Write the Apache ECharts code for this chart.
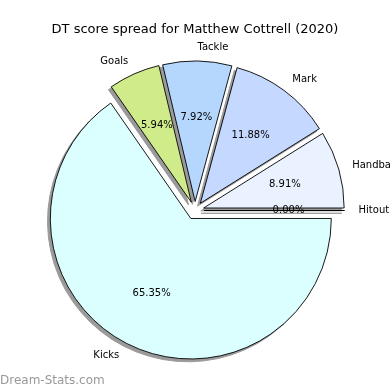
<!DOCTYPE html>
<html><head><meta charset="utf-8">
<script src="https://cdn.jsdelivr.net/npm/echarts@6/dist/echarts.min.js"></script>
<style>html,body{margin:0;padding:0;background:#fff}#c{width:390px;height:390px}</style>
</head><body><div id="c"></div>
<script>
var categories = ['Hitout', 'Handball', 'Mark', 'Tackle', 'Goals', 'Kicks'];
var values = [0, 9, 12, 8, 6, 66];
var colors = ['#eaf2ff', '#eaf2ff', '#c5d8ff', '#b5d7fe', '#d0ec8a', '#dbfeff'];
var titleText = 'DT score spread for Matthew Cottrell (2020)';
var watermark = 'Dream-Stats.com';

var total = values.reduce(function (a, b) { return a + b; }, 0);
var cx = 195, cy = 210.5;
var R = 140.5;
var off = 9;
var sh = 2.8;
var font = 'DejaVu Sans';

function mk(kind) {
  return categories.map(function (c, i) {
    var col = kind === 'main' ? colors[i] : (kind === 'shadow' ? '#9a9a9a' : 'rgba(0,0,0,0)');
    return { name: c, value: values[i], selected: true, itemStyle: { color: col } };
  });
}

var common = {
  type: 'pie', startAngle: 0, clockwise: false,
  selectedMode: 'multiple', selectedOffset: off,
  avoidLabelOverlap: false, silent: true, stillShowZeroSum: true,
  emphasis: { disabled: true }
};

var chart = echarts.init(document.getElementById('c'), null, { renderer: 'canvas' });
chart.setOption({
  animation: false,
  backgroundColor: '#fff',
  title: {
    text: titleText, left: 'center', top: 18,
    textStyle: { fontFamily: font, fontSize: 13, fontWeight: 'normal', color: '#000' }
  },
  graphic: [{
    type: 'text', left: 0, top: 375,
    style: { text: watermark, fontFamily: font, fontSize: 12, fill: '#999' }
  }],
  series: [
    Object.assign({}, common, {
      center: [cx - sh, cy + sh], radius: [0, R],
      itemStyle: { borderWidth: 1, borderColor: '#9a9a9a' },
      label: { show: false }, labelLine: { show: false },
      data: mk('shadow')
    }),
    Object.assign({}, common, {
      center: [cx, cy], radius: [0, R],
      itemStyle: { borderColor: '#000', borderWidth: 0.9 },
      label: {
        show: true, position: 'outside', distanceToLabelLine: 0, offset: [0, 1],
        fontFamily: font, fontSize: 10, color: '#000',
        formatter: '{b}'
      },
      labelLine: { show: false, length: 0.1 * R, length2: 0 },
      data: mk('main')
    }),
    Object.assign({}, common, {
      center: [cx, cy], radius: [0, 163],
      itemStyle: { borderWidth: 0 },
      label: {
        show: true, position: 'inside', offset: [0, 1],
        fontFamily: font, fontSize: 10, color: '#000',
        formatter: function (p) { return (p.value / total * 100).toFixed(2) + '%'; }
      },
      labelLine: { show: false },
      data: mk('none')
    })
  ]
});
</script></body></html>
